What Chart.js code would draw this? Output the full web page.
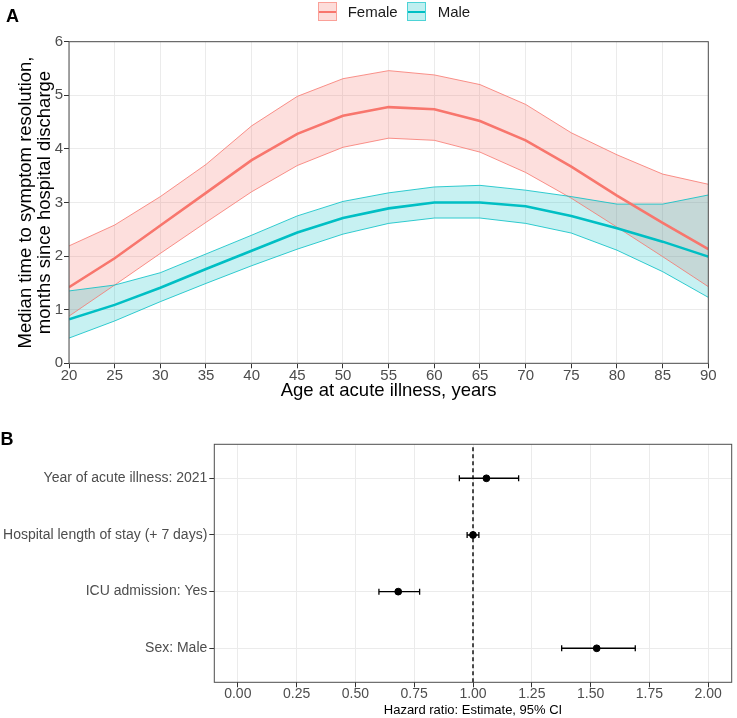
<!DOCTYPE html>
<html><head><meta charset="utf-8">
<script src="https://cdn.jsdelivr.net/npm/chart.js@4.4.1/dist/chart.umd.min.js"></script>
<style>
html,body{margin:0;padding:0;background:#fff;}
body{width:737px;height:718px;position:relative;overflow:hidden;font-family:'Liberation Sans',Arial,sans-serif;}
#cA{position:absolute;left:0;top:0;}
#cB{position:absolute;left:0;top:400px;}
.tag{position:absolute;font-weight:bold;font-size:18px;line-height:18px;color:#000;}
.key{position:absolute;top:1.7px;width:19px;height:19px;box-sizing:border-box;}
.key span{position:absolute;left:0;right:0;top:8px;height:2.2px;}
.ktxt{position:absolute;top:1.7px;line-height:20px;font-size:15px;color:#1a1a1a;}
</style>
</head><body>
<canvas id="cA" width="737" height="410"></canvas>
<canvas id="cB" width="737" height="318"></canvas>
<div class="tag" style="left:6px;top:7px;">A</div>
<div class="tag" style="left:0.5px;top:430px;">B</div>
<div class="key" style="left:317.5px;background:rgba(248,118,109,0.25);border:1px solid rgba(248,118,109,0.6);"><span style="background:#F8766D"></span></div>
<div class="ktxt" style="left:347.7px;">Female</div>
<div class="key" style="left:407px;background:rgba(0,191,196,0.25);border:1px solid rgba(0,191,196,0.6);"><span style="background:#00BFC4"></span></div>
<div class="ktxt" style="left:437.7px;">Male</div>
<script>
// ---- Panel A data ----
const ages = [20,25,30,35,40,45,50,55,60,65,70,75,80,85,90];
const femaleMedian = [1.42,1.96,2.57,3.18,3.79,4.28,4.62,4.78,4.74,4.52,4.16,3.67,3.13,2.62,2.13];
const femaleUpper  = [2.19,2.58,3.11,3.71,4.43,4.98,5.31,5.46,5.38,5.20,4.83,4.30,3.89,3.53,3.34];
const femaleLower  = [0.88,1.46,2.05,2.63,3.20,3.69,4.03,4.20,4.16,3.94,3.56,3.08,2.54,1.99,1.43];
const maleMedian   = [0.82,1.09,1.41,1.76,2.10,2.44,2.71,2.89,3.00,3.00,2.93,2.75,2.52,2.27,1.99];
const maleUpper    = [1.35,1.46,1.69,2.04,2.39,2.75,3.02,3.18,3.29,3.32,3.23,3.11,2.97,2.97,3.14];
const maleLower    = [0.47,0.79,1.15,1.49,1.82,2.13,2.41,2.61,2.71,2.71,2.61,2.43,2.11,1.71,1.23];
const xTicksA = [20,25,30,35,40,45,50,55,60,65,70,75,80,85,90];
const yTicksA = [0,1,2,3,4,5,6];

// ---- Panel B data ----
const terms = ['Year of acute illness: 2021','Hospital length of stay (+ 7 days)','ICU admission: Yes','Sex: Male'];
const estimate = [1.057, 1.000, 0.682, 1.526];
const ciLow    = [0.942, 0.975, 0.600, 1.377];
const ciHigh   = [1.194, 1.025, 0.773, 1.690];
const refValue = 1;
const xTicksB = [0,0.25,0.5,0.75,1,1.25,1.5,1.75,2];

const FONT = "'Liberation Sans', Arial, sans-serif";
const FEM = '#F8766D', MAL = '#00BFC4';
const pts = (xs, ys) => xs.map((x,i)=>({x:x, y:ys[i]}));

const panelBorder = {
  id:'panelBorder',
  afterDatasetsDraw(chart){
    const {ctx, chartArea:a} = chart;
    ctx.save();
    ctx.strokeStyle = '#4d4d4d'; ctx.lineWidth = 1;
    ctx.strokeRect(a.left, a.top, a.right-a.left, a.bottom-a.top);
    ctx.restore();
  }
};

const gridOpts = {color:'#EBEBEB', lineWidth:1, drawTicks:true, tickLength:5, tickColor:'#333333', tickWidth:1};

// ---- Chart A ----
new Chart(document.getElementById('cA'), {
  type:'line',
  data:{datasets:[
    {data:pts(ages,maleUpper), borderColor:MAL, borderWidth:0.8, pointRadius:0, fill:false, order:2},
    {data:pts(ages,maleLower), borderColor:MAL, borderWidth:0.8, pointRadius:0, fill:'-1', backgroundColor:'rgba(0,191,196,0.22)', order:2},
    {data:pts(ages,femaleUpper), borderColor:FEM, borderWidth:0.8, pointRadius:0, fill:false, order:2},
    {data:pts(ages,femaleLower), borderColor:FEM, borderWidth:0.8, pointRadius:0, fill:'-1', backgroundColor:'rgba(248,118,109,0.23)', order:2},
    {data:pts(ages,femaleMedian), borderColor:FEM, borderWidth:2.6, pointRadius:0, fill:false, order:1},
    {data:pts(ages,maleMedian), borderColor:MAL, borderWidth:2.6, pointRadius:0, fill:false, order:0}
  ]},
  options:{
    responsive:false, animation:false, events:[],
    layout:{padding:{top:41.7, right:28.7, left:0, bottom:0}},
    plugins:{legend:{display:false}, tooltip:{enabled:false}, filler:{drawTime:'beforeDatasetsDraw'}},
    elements:{line:{tension:0}},
    scales:{
      x:{type:'linear', min:20, max:90,
        afterBuildTicks:s=>{s.ticks = xTicksA.map(v=>({value:v}));},
        afterFit:s=>{s.height = 410-363.3;},
        grid:gridOpts, border:{display:false},
        ticks:{color:'#4D4D4D', padding:0, font:{family:FONT, size:15, lineHeight:1}, maxRotation:0, autoSkip:false},
        title:{display:true, text:'Age at acute illness, years', color:'#000', font:{family:FONT, size:18.5, lineHeight:1.2}, padding:{top:0, bottom:7.9}}
      },
      y:{type:'linear', min:0, max:6,
        afterBuildTicks:s=>{s.ticks = yTicksA.map(v=>({value:v}));},
        afterFit:s=>{s.width = 69;},
        grid:gridOpts, border:{display:false},
        ticks:{color:'#4D4D4D', padding:1, font:{family:FONT, size:15, lineHeight:1}, autoSkip:false},
        title:{display:true, text:['Median time to symptom resolution,','months since hospital discharge'], color:'#000', font:{family:FONT, size:18.5, lineHeight:1.0}, padding:{top:16.75, bottom:0}}
      }
    }
  },
  plugins:[panelBorder]
});

// ---- Chart B ----
const nT = terms.length;
const rowPos = terms.map((t,i)=>nT - i);
const ciSets = terms.map((t,i)=>({
  type:'scatter', showLine:true,
  data:[{x:ciLow[i], y:rowPos[i]},{x:ciHigh[i], y:rowPos[i]}],
  borderColor:'#000', borderWidth:1.4,
  pointStyle:'line', pointRotation:90, pointRadius:3, pointBorderColor:'#000', pointBorderWidth:1.3, pointBackgroundColor:'#000',
  order:1
}));
new Chart(document.getElementById('cB'), {
  type:'scatter',
  data:{datasets:[
    {type:'scatter', showLine:true, data:[{x:refValue, y:0.4},{x:refValue, y:nT+0.6}], borderColor:'#000', borderWidth:1.4, borderDash:[4,3], pointRadius:0, order:2},
    ...ciSets,
    {type:'scatter', data:rowPos.map((y,i)=>({x:estimate[i], y:y})), pointRadius:3.4, pointBackgroundColor:'#000', pointBorderColor:'#000', pointBorderWidth:1, order:0}
  ]},
  options:{
    responsive:false, animation:false, events:[],
    layout:{padding:{top:44.3, right:2, left:0, bottom:0}},
    plugins:{legend:{display:false}, tooltip:{enabled:false}},
    scales:{
      x:{type:'linear', min:-0.1, max:2.1,
        afterBuildTicks:s=>{s.ticks = xTicksB.map(v=>({value:v}));},
        afterFit:s=>{s.height = 318-282.3;},
        grid:gridOpts, border:{display:false},
        ticks:{color:'#4D4D4D', padding:0, font:{family:FONT, size:14, lineHeight:1}, maxRotation:0, autoSkip:false, callback:v=>Number(v).toFixed(2)},
        title:{display:true, text:'Hazard ratio: Estimate, 95% CI', color:'#000', font:{family:FONT, size:13, lineHeight:1.2}, padding:{top:0, bottom:0.2}}
      },
      y:{type:'linear', min:0.4, max:nT+0.6,
        afterBuildTicks:s=>{s.ticks = rowPos.map(v=>({value:v}));},
        afterFit:s=>{s.width = 214.3;},
        grid:gridOpts, border:{display:false},
        ticks:{color:'#4D4D4D', padding:2, font:{family:FONT, size:14, lineHeight:1}, autoSkip:false, callback:v=>terms[nT - v]}
      }
    }
  },
  plugins:[panelBorder]
});
</script>
</body></html>
